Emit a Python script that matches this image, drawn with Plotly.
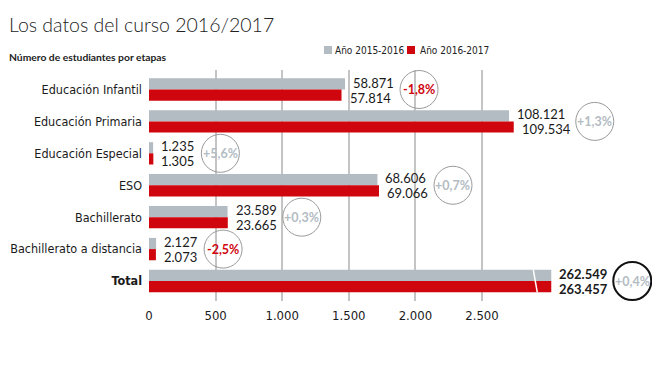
import plotly.graph_objects as go

# ---------------- data ----------------
categories = ["Educación Infantil", "Educación Primaria", "Educación Especial", "ESO",
              "Bachillerato", "Bachillerato a distancia", "Total"]
students_2015_2016 = [58871, 108121, 1235, 68606, 23589, 2127, 262549]
students_2016_2017 = [57814, 109534, 1305, 69066, 23665, 2073, 263457]
change_labels = ["-1,8%", "+1,3%", "+5,6%", "+0,7%", "+0,3%", "-2,5%", "+0,4%"]
tick_vals = [0, 500, 1000, 1500, 2000, 2500]
tick_text = ["0", "500", "1.000", "1.500", "2.000", "2.500"]

# ---------------- style ----------------
SCALE = 40          # bar length unit used by the original graphic
CAP = 3020          # the Total bar is drawn broken at this length
BREAK_AT = 2900
GRAY = "#b3bcc3"
RED = "#d0060f"
TXT = "#1a1a1a"
FONT = "Liberation Sans Narrow, DejaVu Sans Condensed, Lato, sans-serif"
NUMFONT = "Lato, sans-serif"

OFF = 8  # page body margin
W, H = 660 - OFF, 371 - OFF
L, T = 149 - OFF, 70 - OFF
B = H - (301 - OFF)
R = 0
PW, PH = W - L - R, H - T - B


def px_x(p):
    return (p - OFF - L) / PW


def px_y(p):
    return (H - B - (p - OFF)) / PH


def fmt(v):
    return f"{v:,}".replace(",", ".")


disp_a = [min(v / SCALE, CAP) for v in students_2015_2016]
disp_b = [min(v / SCALE, CAP) for v in students_2016_2017]

fig = go.Figure()
fig.add_trace(go.Bar(y=categories, x=disp_a, orientation="h", marker_color=GRAY,
                     marker_line_width=0, name="Año 2015-2016", hoverinfo="skip"))
fig.add_trace(go.Bar(y=categories, x=disp_b, orientation="h", marker_color=RED,
                     marker_line_width=0, name="Año 2016-2017", hoverinfo="skip"))

annotations = []
shapes = []
n = len(categories)
for i in range(n):
    bold = categories[i] == "Total"
    wrap = (lambda s: f"<b>{s}</b>") if bold else (lambda s: s)
    la, lb = fmt(students_2015_2016[i]), fmt(students_2016_2017[i])
    annotations.append(dict(x=disp_a[i], y=i, xref="x", yref="y", text=wrap(la),
                            xanchor="left", yanchor="middle", xshift=7, yshift=7, borderpad=0,
                            showarrow=False, font=dict(size=13, color=TXT, family=NUMFONT)))
    annotations.append(dict(x=disp_b[i], y=i, xref="x", yref="y", text=wrap(lb),
                            xanchor="left", yanchor="middle", xshift=7, yshift=-8, borderpad=0,
                            showarrow=False, font=dict(size=13, color=TXT, family=NUMFONT)))
    end = max(disp_a[i], disp_b[i])
    nch = max(len(la), len(lb))
    off = 8 + nch * 7.0 + 5 + 19
    neg = change_labels[i].startswith("-")
    shapes.append(dict(type="circle", xref="x", yref="y", xsizemode="pixel", ysizemode="pixel",
                       xanchor=end, yanchor=i, x0=off - 19, x1=off + 19, y0=-19, y1=19,
                       line=dict(color="#111111" if bold else "#9a9a9a", width=2 if bold else 1)))
    annotations.append(dict(x=end, y=i, xref="x", yref="y", xshift=off, text=f"<b>{change_labels[i]}</b>",
                            showarrow=False, xanchor="center", yanchor="middle", borderpad=0,
                            font=dict(size=12.5, color=RED if neg else GRAY, family=NUMFONT)))

# break mark on the Total bars
ti = categories.index("Total")
shapes.append(dict(type="line", xref="x", yref="y", x0=BREAK_AT - 15, x1=BREAK_AT + 15,
                   y0=ti - 0.36, y1=ti + 0.36, line=dict(color="white", width=1.5)))

# title / subtitle / legend
annotations.append(dict(x=px_x(7), y=px_y(24), xref="paper", yref="paper", xanchor="left",
                        yanchor="middle", showarrow=False, text="Los datos del curso 2016/2017",
                        font=dict(size=19.5, color="#222222", family="Lato, sans-serif", weight=300)))
annotations.append(dict(x=px_x(7), y=px_y(57), xref="paper", yref="paper", xanchor="left",
                        yanchor="middle", showarrow=False, text="<b>Número de estudiantes por etapas</b>",
                        font=dict(size=10.3, color="#222222", family="Lato, sans-serif")))
for sx, tx, col, label in [(324, 333, GRAY, "Año 2015-2016"), (407, 418, RED, "Año 2016-2017")]:
    shapes.append(dict(type="rect", xref="paper", yref="paper", x0=px_x(sx), x1=px_x(sx + 8),
                       y0=px_y(54), y1=px_y(46), fillcolor=col, line_width=0))
    annotations.append(dict(x=px_x(tx), y=px_y(50), xref="paper", yref="paper", xanchor="left",
                            yanchor="middle", showarrow=False, text=label,
                            font=dict(size=10, color="#222222", family=FONT)))

fig.update_layout(
    width=W, height=H, margin=dict(l=L, r=R, t=T, b=B, autoexpand=False),
    plot_bgcolor="white", paper_bgcolor="white",
    barmode="group", bargap=0.3, bargroupgap=0,
    showlegend=False,
    font=dict(family=FONT, color=TXT, size=13),
    annotations=annotations, shapes=shapes,
    xaxis=dict(range=[0, PW / 0.1332], tickvals=tick_vals, ticktext=tick_text,
               showgrid=True, gridcolor="#c4c4c4", gridwidth=1.5, zeroline=False,
               showline=False, ticks="", ticklabelstandoff=5, automargin=False,
               tickfont=dict(size=13, color=TXT)),
    yaxis=dict(autorange="reversed", tickvals=categories,
               ticktext=[f"<b>{c}</b>" if c == "Total" else c for c in categories],
               showgrid=False, zeroline=False, showline=False, ticks="", ticklabelstandoff=6,
               automargin=False, tickfont=dict(size=12.5, color=TXT)),
)

fig.write_html("out.html")
